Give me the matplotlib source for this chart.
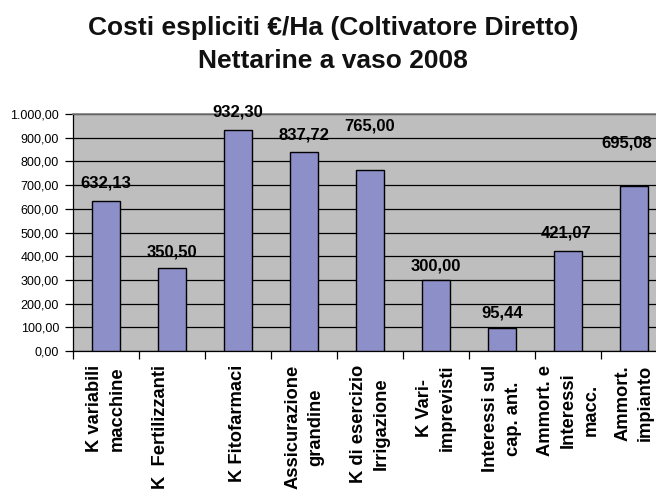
import matplotlib
matplotlib.use("Agg")
import matplotlib.pyplot as plt
import matplotlib.ticker as ticker
import numpy as np

categories = [
    "K variabili\nmacchine",
    "K  Fertilizzanti\n",
    "K Fitofarmaci",
    "Assicurazione\ngrandine",
    "K di esercizio\nIrrigazione",
    "K Vari-\nimprevisti",
    "Interessi sul\ncap. ant.",
    "Ammort. e\nInteressi\nmacc.",
    "Ammort.\nimpianto",
]
costs = [632.13, 350.50, 932.30, 837.72, 765.00, 300.00, 95.44, 421.07, 695.08]
yticks = [0, 100, 200, 300, 400, 500, 600, 700, 800, 900, 1000]

# label placement (pixels above bar top), mimics the original layout
label_dy = [18, 16, 18, 17, 44, 14, 15, 18, 43]
label_dx = [0, 0, 0, 0, 0, 0, 0, -2, -7]

BAR_COLOR = "#8D8FC8"
BG_COLOR = "#BEBEBE"

plt.rcParams.update({
    "font.family": ["Liberation Sans", "DejaVu Sans"],
})


def it_num(v, pos=None):
    s = f"{v:,.2f}"
    return s.replace(",", "X").replace(".", ",").replace("X", ".")


fig = plt.figure(figsize=(6.56, 4.94), dpi=100)
ax = fig.add_axes([73 / 656, 1 - 351 / 494, 594 / 656, 237 / 494])
ax.set_facecolor(BG_COLOR)

x = np.arange(len(costs))
ax.bar(x, costs, width=0.42, color=BAR_COLOR, edgecolor="black", linewidth=1.0, zorder=3)

for xi, v, dy, dx in zip(x, costs, label_dy, label_dx):
    ax.annotate(it_num(v), (xi, v), xytext=(dx, dy), textcoords="offset pixels",
                ha="center", va="center", fontsize=12, fontweight="bold", zorder=4)

ax.set_xlim(-0.5, len(costs) - 0.5)
ax.set_ylim(0, 1000)
ax.set_yticks(yticks)
ax.yaxis.set_major_formatter(ticker.FuncFormatter(it_num))
ax.yaxis.grid(True, color="black", linewidth=0.9, zorder=1)
ax.set_axisbelow(True)

ax.set_xticks(x)
ax.set_xticklabels(categories, rotation=90, fontsize=13.2, fontweight="bold",
                   multialignment="center", va="top", ha="center", linespacing=1.45)
ax.set_xticks(np.arange(len(costs) + 1) - 0.5, minor=True)
ax.tick_params(axis="x", which="major", length=0, pad=10)
ax.tick_params(axis="x", which="minor", length=6, width=0.9, direction="out")
ax.tick_params(axis="y", length=6, width=0.9, direction="out", labelsize=9, pad=4)

for side in ["left", "bottom"]:
    ax.spines[side].set_color("black")
    ax.spines[side].set_linewidth(0.9)
for side in ["top", "right"]:
    ax.spines[side].set_color("#7A7A7A")
    ax.spines[side].set_linewidth(1.2)

fig.text(333 / 656, 1 - 35 / 494, "Costi espliciti €/Ha (Coltivatore Diretto)",
         ha="center", va="baseline", fontsize=19, fontweight="bold", color="#111111")
fig.text(333 / 656, 1 - 68 / 494, "Nettarine a vaso 2008",
         ha="center", va="baseline", fontsize=19, fontweight="bold", color="#111111")

fig.savefig("out.png", dpi=100)
